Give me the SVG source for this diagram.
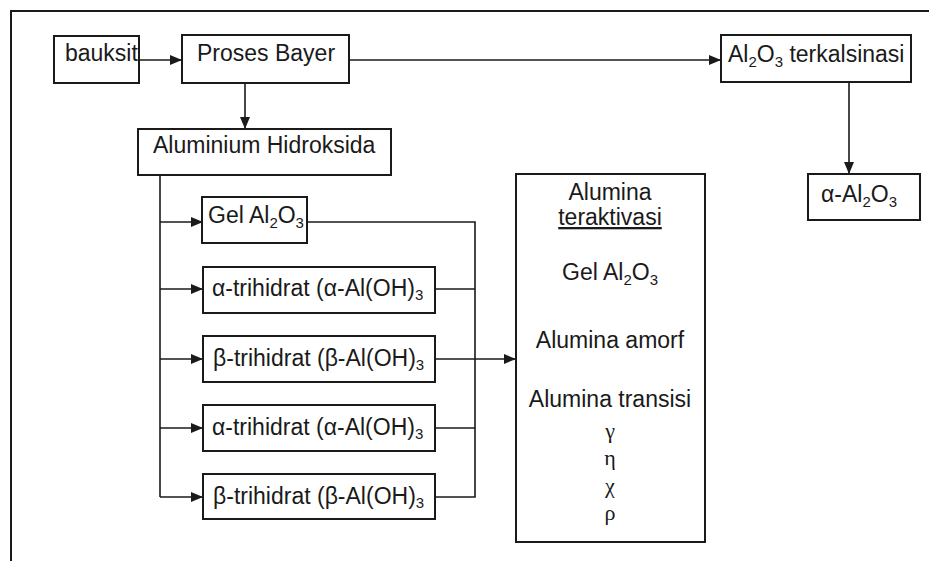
<svg xmlns="http://www.w3.org/2000/svg" width="929" height="561" viewBox="0 0 929 561">
<style>
  .box { fill: #fff; stroke: #1a1a1a; stroke-width: 2; }
  .t { font-family: "Liberation Sans", Arial, sans-serif; font-size: 23px; fill: #1a1a1a; }
  .c { text-anchor: middle; }
  .sub { font-size: 15px; }
  .gr { font-family: "Liberation Serif", "Times New Roman", serif; font-size: 22px; }
  .ln { fill: none; stroke: #1a1a1a; stroke-width: 1.6; }
  .frame { fill: none; stroke: #1a1a1a; stroke-width: 2; }
</style>
<defs>
  <marker id="ah" markerWidth="12" markerHeight="10" refX="11" refY="5" orient="auto" markerUnits="userSpaceOnUse">
    <path d="M0,0 L12,5 L0,10 Z" fill="#1a1a1a"/>
  </marker>
</defs>
<rect width="929" height="561" fill="#fff"/>
<g id="frame">
  <path class="frame" d="M11,561 L11,11 L929,11"/>
</g>
<g id="connectors">
  <path class="ln" d="M139,60 L181,60" marker-end="url(#ah)"/>
  <path class="ln" d="M245,83 L245,128" marker-end="url(#ah)" stroke-width="2.2"/>
  <path class="ln" d="M349,60 L720,60" marker-end="url(#ah)"/>
  <path class="ln" d="M849,82 L849,173" marker-end="url(#ah)" stroke-width="2"/>
  <path class="ln" d="M160,175 L160,497"/>
  <path class="ln" d="M160,222 L202,222" marker-end="url(#ah)"/>
  <path class="ln" d="M160,289 L202,289" marker-end="url(#ah)"/>
  <path class="ln" d="M160,359 L202,359" marker-end="url(#ah)"/>
  <path class="ln" d="M160,428 L202,428" marker-end="url(#ah)"/>
  <path class="ln" d="M160,497 L202,497" marker-end="url(#ah)"/>
  <path class="ln" d="M307,222 L475,222 L475,497 L435,497"/>
  <path class="ln" d="M435,289 L475,289"/>
  <path class="ln" d="M435,428 L475,428"/>
  <path class="ln" d="M435,359 L515,359" marker-end="url(#ah)"/>
</g>
<g id="bauksit">
  <rect class="box" x="54" y="36" width="85" height="47"/>
  <text class="t" x="65" y="61">bauksit</text>
</g>
<g id="proses-bayer">
  <rect class="box" x="182" y="35" width="167" height="48"/>
  <text class="t" x="197" y="61">Proses Bayer</text>
</g>
<g id="al2o3-terkalsinasi">
  <rect class="box" x="721" y="35" width="190" height="47"/>
  <text class="t" x="728" y="62">Al<tspan class="sub" dy="5">2</tspan><tspan dy="-5">O</tspan><tspan class="sub" dy="5">3</tspan><tspan dy="-5"> terkalsinasi</tspan></text>
</g>
<g id="alpha-al2o3">
  <rect class="box" x="808" y="174" width="112" height="46"/>
  <text class="t" x="821" y="202">α-Al<tspan class="sub" dy="5">2</tspan><tspan dy="-5">O</tspan><tspan class="sub" dy="5">3</tspan></text>
</g>
<g id="aluminium-hidroksida">
  <rect class="box" x="138" y="129" width="253" height="46"/>
  <text class="t" x="153" y="153">Aluminium Hidroksida</text>
</g>
<g id="gel-al2o3">
  <rect class="box" x="202" y="197" width="105" height="46"/>
  <text class="t" x="208" y="223">Gel Al<tspan class="sub" dy="5">2</tspan><tspan dy="-5">O</tspan><tspan class="sub" dy="5">3</tspan></text>
</g>
<g id="alpha-trihidrat-1">
  <rect class="box" x="203" y="267" width="232" height="46"/>
  <text class="t" x="212" y="296">α-trihidrat (α-Al(OH)<tspan class="sub" dy="4">3</tspan></text>
</g>
<g id="beta-trihidrat-1">
  <rect class="box" x="203" y="336" width="232" height="46"/>
  <text class="t" x="213" y="366">β-trihidrat (β-Al(OH)<tspan class="sub" dy="4">3</tspan></text>
</g>
<g id="alpha-trihidrat-2">
  <rect class="box" x="203" y="405" width="232" height="46"/>
  <text class="t" x="212" y="435">α-trihidrat (α-Al(OH)<tspan class="sub" dy="4">3</tspan></text>
</g>
<g id="beta-trihidrat-2">
  <rect class="box" x="203" y="474" width="232" height="45"/>
  <text class="t" x="213" y="504">β-trihidrat (β-Al(OH)<tspan class="sub" dy="4">3</tspan></text>
</g>
<g id="alumina-teraktivasi">
  <rect class="box" x="516" y="174" width="189" height="368"/>
  <text class="t c" x="610" y="200">Alumina</text>
  <text class="t c" x="610" y="225" text-decoration="underline">teraktivasi</text>
  <text class="t c" x="610" y="280">Gel Al<tspan class="sub" dy="5">2</tspan><tspan dy="-5">O</tspan><tspan class="sub" dy="5">3</tspan></text>
  <text class="t c" x="610" y="348">Alumina amorf</text>
  <text class="t c" x="610" y="407">Alumina transisi</text>
  <text class="t c gr" x="610" y="438">γ</text>
  <text class="t c gr" x="610" y="465">η</text>
  <text class="t c gr" x="610" y="493">χ</text>
  <text class="t c gr" x="610" y="520">ρ</text>
</g>
</svg>
